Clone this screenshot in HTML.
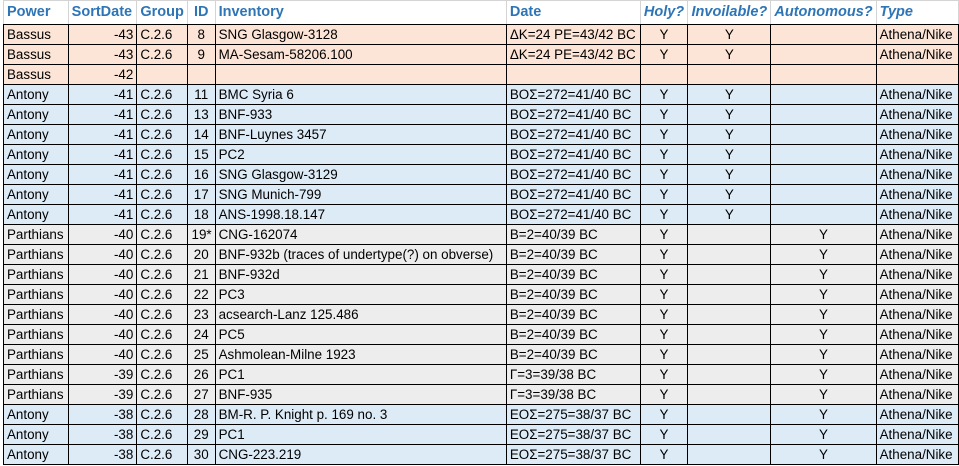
<!DOCTYPE html>
<html><head><meta charset="utf-8"><style>
html,body{margin:0;padding:0;background:#fff;width:959px;height:466px;overflow:hidden}
table{position:absolute;left:3px;top:0;border-collapse:collapse;table-layout:fixed;font-family:"Liberation Sans",sans-serif;font-size:13.4px;color:#000}
td{height:19px;padding:0 3px;border:1px solid #000;white-space:nowrap;overflow:hidden;line-height:19px}
tr.h td{height:23px;border-top:1px solid #d4d4d4;border-left:1px solid #d4d4d4;border-right:1px solid #d4d4d4;color:#2e75b6;font-weight:bold;font-size:14.5px}
.i{font-style:italic}
.r{text-align:right}.c{text-align:center}
tr.b td{background:#fce4d6}tr.a td{background:#ddebf7}tr.p td{background:#ededed}
</style></head><body>
<table>
<colgroup><col style="width:65px"><col style="width:69px"><col style="width:49px"><col style="width:28px"><col style="width:294px"><col style="width:134px"><col style="width:48px"><col style="width:83px"><col style="width:103px"><col style="width:83px"></colgroup>
<tr class="h"><td>Power</td><td>SortDate</td><td>Group</td><td class="c">ID</td><td>Inventory</td><td>Date</td><td class="i c">Holy?</td><td class="i c">Invoilable?</td><td class="i c">Autonomous?</td><td class="i">Type</td></tr>
<tr class="b"><td>Bassus</td><td class="r">-43</td><td>C.2.6</td><td class="c">8</td><td>SNG Glasgow-3128</td><td>ΔK=24 PE=43/42 BC</td><td class="c">Y</td><td class="c">Y</td><td></td><td>Athena/Nike</td></tr>
<tr class="b"><td>Bassus</td><td class="r">-43</td><td>C.2.6</td><td class="c">9</td><td>MA-Sesam-58206.100</td><td>ΔK=24 PE=43/42 BC</td><td class="c">Y</td><td class="c">Y</td><td></td><td>Athena/Nike</td></tr>
<tr class="b"><td>Bassus</td><td class="r">-42</td><td></td><td></td><td></td><td></td><td></td><td></td><td></td><td></td></tr>
<tr class="a"><td>Antony</td><td class="r">-41</td><td>C.2.6</td><td class="c">11</td><td>BMC Syria 6</td><td>BOΣ=272=41/40 BC</td><td class="c">Y</td><td class="c">Y</td><td></td><td>Athena/Nike</td></tr>
<tr class="a"><td>Antony</td><td class="r">-41</td><td>C.2.6</td><td class="c">13</td><td>BNF-933</td><td>BOΣ=272=41/40 BC</td><td class="c">Y</td><td class="c">Y</td><td></td><td>Athena/Nike</td></tr>
<tr class="a"><td>Antony</td><td class="r">-41</td><td>C.2.6</td><td class="c">14</td><td>BNF-Luynes 3457</td><td>BOΣ=272=41/40 BC</td><td class="c">Y</td><td class="c">Y</td><td></td><td>Athena/Nike</td></tr>
<tr class="a"><td>Antony</td><td class="r">-41</td><td>C.2.6</td><td class="c">15</td><td>PC2</td><td>BOΣ=272=41/40 BC</td><td class="c">Y</td><td class="c">Y</td><td></td><td>Athena/Nike</td></tr>
<tr class="a"><td>Antony</td><td class="r">-41</td><td>C.2.6</td><td class="c">16</td><td>SNG Glasgow-3129</td><td>BOΣ=272=41/40 BC</td><td class="c">Y</td><td class="c">Y</td><td></td><td>Athena/Nike</td></tr>
<tr class="a"><td>Antony</td><td class="r">-41</td><td>C.2.6</td><td class="c">17</td><td>SNG Munich-799</td><td>BOΣ=272=41/40 BC</td><td class="c">Y</td><td class="c">Y</td><td></td><td>Athena/Nike</td></tr>
<tr class="a"><td>Antony</td><td class="r">-41</td><td>C.2.6</td><td class="c">18</td><td>ANS-1998.18.147</td><td>BOΣ=272=41/40 BC</td><td class="c">Y</td><td class="c">Y</td><td></td><td>Athena/Nike</td></tr>
<tr class="p"><td>Parthians</td><td class="r">-40</td><td>C.2.6</td><td class="r">19*</td><td>CNG-162074</td><td>B=2=40/39 BC</td><td class="c">Y</td><td></td><td class="c">Y</td><td>Athena/Nike</td></tr>
<tr class="p"><td>Parthians</td><td class="r">-40</td><td>C.2.6</td><td class="c">20</td><td>BNF-932b (traces of undertype(?) on obverse)</td><td>B=2=40/39 BC</td><td class="c">Y</td><td></td><td class="c">Y</td><td>Athena/Nike</td></tr>
<tr class="p"><td>Parthians</td><td class="r">-40</td><td>C.2.6</td><td class="c">21</td><td>BNF-932d</td><td>B=2=40/39 BC</td><td class="c">Y</td><td></td><td class="c">Y</td><td>Athena/Nike</td></tr>
<tr class="p"><td>Parthians</td><td class="r">-40</td><td>C.2.6</td><td class="c">22</td><td>PC3</td><td>B=2=40/39 BC</td><td class="c">Y</td><td></td><td class="c">Y</td><td>Athena/Nike</td></tr>
<tr class="p"><td>Parthians</td><td class="r">-40</td><td>C.2.6</td><td class="c">23</td><td>acsearch-Lanz 125.486</td><td>B=2=40/39 BC</td><td class="c">Y</td><td></td><td class="c">Y</td><td>Athena/Nike</td></tr>
<tr class="p"><td>Parthians</td><td class="r">-40</td><td>C.2.6</td><td class="c">24</td><td>PC5</td><td>B=2=40/39 BC</td><td class="c">Y</td><td></td><td class="c">Y</td><td>Athena/Nike</td></tr>
<tr class="p"><td>Parthians</td><td class="r">-40</td><td>C.2.6</td><td class="c">25</td><td>Ashmolean-Milne 1923</td><td>B=2=40/39 BC</td><td class="c">Y</td><td></td><td class="c">Y</td><td>Athena/Nike</td></tr>
<tr class="p"><td>Parthians</td><td class="r">-39</td><td>C.2.6</td><td class="c">26</td><td>PC1</td><td>Γ=3=39/38 BC</td><td class="c">Y</td><td></td><td class="c">Y</td><td>Athena/Nike</td></tr>
<tr class="p"><td>Parthians</td><td class="r">-39</td><td>C.2.6</td><td class="c">27</td><td>BNF-935</td><td>Γ=3=39/38 BC</td><td class="c">Y</td><td></td><td class="c">Y</td><td>Athena/Nike</td></tr>
<tr class="a"><td>Antony</td><td class="r">-38</td><td>C.2.6</td><td class="c">28</td><td>BM-R. P. Knight p. 169 no. 3</td><td>EOΣ=275=38/37 BC</td><td class="c">Y</td><td></td><td class="c">Y</td><td>Athena/Nike</td></tr>
<tr class="a"><td>Antony</td><td class="r">-38</td><td>C.2.6</td><td class="c">29</td><td>PC1</td><td>EOΣ=275=38/37 BC</td><td class="c">Y</td><td></td><td class="c">Y</td><td>Athena/Nike</td></tr>
<tr class="a"><td>Antony</td><td class="r">-38</td><td>C.2.6</td><td class="c">30</td><td>CNG-223.219</td><td>EOΣ=275=38/37 BC</td><td class="c">Y</td><td></td><td class="c">Y</td><td>Athena/Nike</td></tr>
</table>
</body></html>
